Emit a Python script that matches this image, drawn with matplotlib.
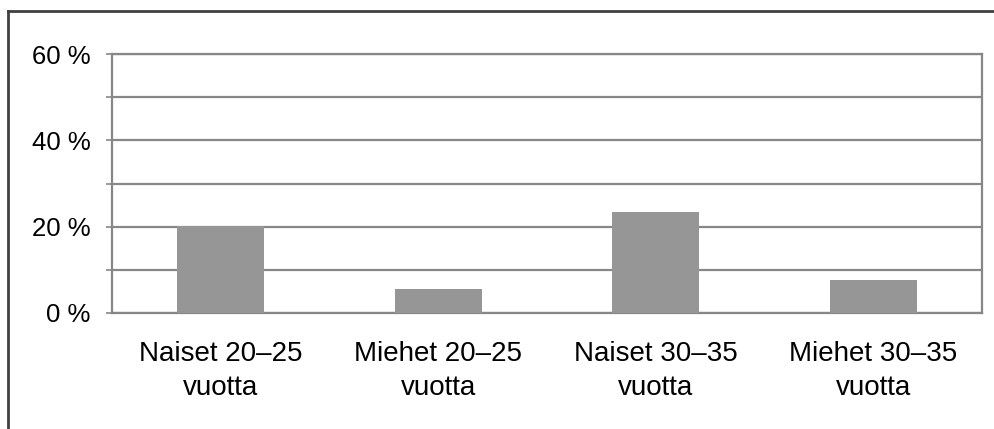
import matplotlib.pyplot as plt
from matplotlib.lines import Line2D

# chart data
categories = ["Naiset 20–25\nvuotta", "Miehet 20–25\nvuotta",
              "Naiset 30–35\nvuotta", "Miehet 30–35\nvuotta"]
shares = [20.1, 5.6, 23.3, 7.7]
y_ticks = [0, 10, 20, 30, 40, 50, 60]
y_labels = ["0 %", "", "20 %", "", "40 %", "", "60 %"]

plt.rcParams['font.family'] = ['Liberation Sans', 'DejaVu Sans']

W, H = 994, 429
fig = plt.figure(figsize=(W / 100, H / 100), dpi=100)
ax = fig.add_axes([112 / W, 1 - 313 / H, (982 - 112) / W, (313 - 54) / H])

grid_col = "#878787"
x = range(len(categories))
ax.bar(x, shares, width=0.4, color="#969696", zorder=3)

ax.set_xlim(-0.5, len(categories) - 0.5)
ax.set_ylim(0, 60)
ax.set_yticks(y_ticks)
ax.set_yticklabels(y_labels, fontsize=18.5)
ax.set_xticks(list(x))
ax.set_xticklabels(categories, fontsize=20, linespacing=1.4)

ax.yaxis.grid(True, color=grid_col, linewidth=1.6, zorder=0)
ax.set_axisbelow(True)
for side in ax.spines.values():
    side.set_color(grid_col)
    side.set_linewidth(1.6)

ax.tick_params(axis='y', length=4.5, width=1.2, color=grid_col, pad=11)
ax.tick_params(axis='x', length=0, pad=20)

# outer chart border (left and top visible)
fig.add_artist(Line2D([8 / W, 8 / W], [0, 1 - 11 / H], transform=fig.transFigure,
                      color="#404040", linewidth=2))
fig.add_artist(Line2D([8 / W, 1], [1 - 11 / H, 1 - 11 / H], transform=fig.transFigure,
                      color="#404040", linewidth=2))

fig.savefig("out.png", dpi=100, facecolor="white")
